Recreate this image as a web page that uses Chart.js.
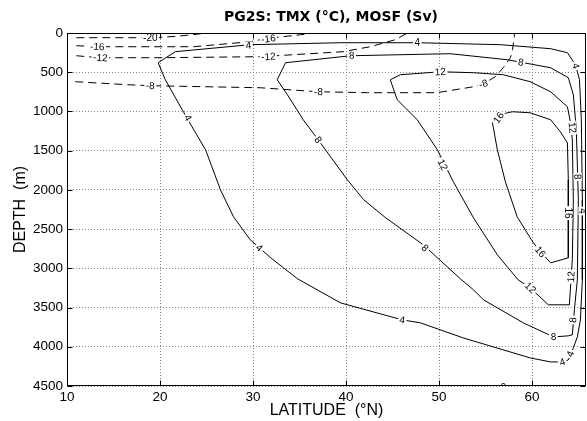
<!DOCTYPE html>
<html>
<head>
<meta charset="utf-8">
<script src="https://cdn.jsdelivr.net/npm/chart.js@4.4.0/dist/chart.umd.min.js"></script>
<style>
  html, body { margin: 0; padding: 0; background: #fff; }
</style>
</head>
<body>
<canvas id="chart" width="587" height="421"></canvas>
<script>
// contour levels
const mosfLevels = [0, 4, 8, 12, 16];       // Sv, solid
const tmxLevels = [-20, -16, -12, -8];      // degC, dashed

// contour paths, [latitude, depth]
const mosf0 = [[50, 4540], [64, 4540]];
const mosf4 = [[19.8, 379], [21.65, 238], [29.7, 149], [39.4, 124], [47.7, 124], [56.6, 149], [62.0, 200], [63.8, 251],
  [64.66, 404], [65.1, 596], [65.3, 1106], [65.41, 2126], [65.41, 3146], [65.2, 3657], [64.87, 3874], [64.44, 4014],
  [63.9, 4167], [63.26, 4193], [62.0, 4193], [59.8, 4142], [52.6, 3887], [48.0, 3695], [46.05, 3657], [39.4, 3440],
  [34.8, 3134], [31.9, 2866], [29.7, 2636], [27.9, 2343], [26.5, 1999], [24.9, 1489], [23.0, 1106], [20.57, 596], [19.8, 379]];
const mosf8 = [[32.6, 596], [33.5, 379], [40.5, 290], [51.2, 264], [57.35, 341], [62.0, 443], [63.9, 570], [64.44, 787],
  [64.76, 1234], [64.98, 2126], [64.87, 3146], [64.55, 3529], [64.33, 3848], [63.9, 3861], [62.3, 3874], [59.06, 3695],
  [54.77, 3401], [53.7, 3274], [52.3, 3134], [48.3, 2700], [44.2, 2350], [41.9, 2126], [40.14, 1871], [37.0, 1361],
  [35.4, 1106], [33.7, 787], [32.6, 596]];
const mosf12 = [[44.76, 596], [45.84, 532], [50.14, 494], [53.7, 506], [56.9, 532], [59.8, 621], [62.0, 749], [63.8, 940],
  [64.12, 1131], [64.33, 1361], [64.44, 2126], [64.33, 2891], [64.12, 3274], [64.01, 3465], [61.75, 3465], [59.8, 3248],
  [58.5, 3146], [56.27, 2828], [53.7, 2356], [51.54, 1897], [49.82, 1489], [47.66, 1106], [45.5, 851], [44.76, 596]];
const mosf16 = [[55.74, 1144], [56.27, 1055], [57.35, 1017], [57.9, 1004], [59.8, 1017], [62.0, 1106], [63.04, 1259],
  [63.8, 1399], [63.9, 1871], [63.9, 2381], [63.9, 2866], [62.0, 2930], [60.9, 2790], [60.14, 2675], [58.4, 2343],
  [57.13, 1897], [56.27, 1489], [55.74, 1144]];
const tmx20 = [[11.0, 60], [16.5, 60], [19.5, 60], [22.0, 40], [24.0, 15], [25.0, 0]];
const tmx16 = [[11.0, 162], [13.6, 175], [23.6, 175], [29.7, 111], [31.3, 73], [35.1, 22], [36.7, 0]];
const tmx12 = [[11.0, 290], [13.6, 315], [20.0, 315], [30.8, 302], [39.7, 238], [42.6, 175], [45.3, 85], [46.6, 0]];
const tmx8 = [[10.9, 621], [16.5, 659], [19.0, 672], [30.8, 698], [37.0, 749], [42.3, 761], [49.8, 761], [53.7, 685],
  [54.77, 647], [56.06, 557], [56.9, 443], [57.67, 315], [57.9, 213], [58.1, 47], [58.1, 0]];

// where the contour labels sit, [latitude, depth]
const mosf0Labels = [[56.9, 4525]];
const mosf4Labels = [[23.0, 1081], [29.5, 160], [47.66, 124], [64.7, 420], [65.41, 2270], [30.68, 2738], [46.05, 3657], [63.26, 4193], [64.12, 4090]];
const mosf8Labels = [[40.6, 285], [58.8, 375], [64.9, 1833], [37.0, 1361], [48.5, 2739], [64.4, 3657], [62.3, 3874]];
const mosf12Labels = [[50.14, 494], [64.33, 1208], [50.4, 1680], [59.82, 3248], [64.2, 3108]];
const mosf16Labels = [[56.4, 1080], [63.9, 2296], [60.89, 2790]];
const tmx20Labels = [[18.96, 60]];
const tmx16Labels = [[13.26, 175], [31.65, 73]];
const tmx12Labels = [[13.58, 315], [31.65, 302]];
const tmx8Labels = [[18.96, 672], [37.02, 749], [54.77, 647]];

const contours = [
  { level: mosfLevels[0], pts: mosf0, labels: mosf0Labels, dashed: false },
  { level: mosfLevels[1], pts: mosf4, labels: mosf4Labels, dashed: false },
  { level: mosfLevels[2], pts: mosf8, labels: mosf8Labels, dashed: false },
  { level: mosfLevels[3], pts: mosf12, labels: mosf12Labels, dashed: false },
  { level: mosfLevels[4], pts: mosf16, labels: mosf16Labels, dashed: false },
  { level: tmxLevels[0], pts: tmx20, labels: tmx20Labels, dashed: true },
  { level: tmxLevels[1], pts: tmx16, labels: tmx16Labels, dashed: true },
  { level: tmxLevels[2], pts: tmx12, labels: tmx12Labels, dashed: true },
  { level: tmxLevels[3], pts: tmx8, labels: tmx8Labels, dashed: true }
];

const FONT = 'Liberation Sans, Arial, Helvetica, sans-serif';

// angle of the contour segment closest to the label (screen space)
function labelAngle(pts, lx, ly, xs, ys) {
  let best = Infinity, ang = 0;
  for (let i = 0; i < pts.length - 1; i++) {
    const x1 = xs.getPixelForValue(pts[i][0]), y1 = ys.getPixelForValue(pts[i][1]);
    const x2 = xs.getPixelForValue(pts[i + 1][0]), y2 = ys.getPixelForValue(pts[i + 1][1]);
    const dx = x2 - x1, dy = y2 - y1;
    const len2 = dx * dx + dy * dy || 1;
    let t = ((lx - x1) * dx + (ly - y1) * dy) / len2;
    t = Math.max(0, Math.min(1, t));
    const d = Math.hypot(lx - (x1 + t * dx), ly - (y1 + t * dy));
    if (d < best) { best = d; ang = Math.atan2(dy, dx); }
  }
  if (ang > Math.PI / 2 + 1e-6) ang -= Math.PI;
  if (ang <= -Math.PI / 2 + 1e-6) ang += Math.PI;
  return ang;
}

const contourLabels = {
  id: 'contourLabels',
  afterDatasetsDraw(chart) {
    const { ctx, chartArea: ca } = chart;
    const xs = chart.scales.x, ys = chart.scales.y;
    ctx.save();
    ctx.beginPath();
    ctx.rect(ca.left, ca.top, ca.right - ca.left, ca.bottom - ca.top);
    ctx.clip();
    ctx.font = '10px ' + FONT;
    ctx.textAlign = 'center';
    ctx.textBaseline = 'middle';
    contours.forEach(c => {
      c.labels.forEach(l => {
        const px = xs.getPixelForValue(l[0]), py = ys.getPixelForValue(l[1]);
        const ang = labelAngle(c.pts, px, py, xs, ys);
        const txt = String(c.level);
        const w = ctx.measureText(txt).width;
        ctx.save();
        ctx.translate(px, py);
        ctx.rotate(ang);
        ctx.fillStyle = '#fff';
        ctx.fillRect(-w / 2 - 1.5, -4, w + 3, 8);
        ctx.fillStyle = '#000';
        ctx.fillText(txt, 0, 0.5);
        ctx.restore();
      });
    });
    ctx.restore();
  }
};

// box, inward ticks on all sides, and the title centred on the axes
const frame = {
  id: 'frame',
  afterDraw(chart) {
    const { ctx, chartArea: ca } = chart;
    const xs = chart.scales.x, ys = chart.scales.y;
    const L = Math.round(ca.left) + 0.5, R = Math.round(ca.right) - 0.5;
    const T = Math.round(ca.top) + 0.5, B = Math.round(ca.bottom) - 0.5;
    ctx.save();
    ctx.strokeStyle = '#000';
    ctx.lineWidth = 1;
    ctx.strokeRect(L, T, R - L, B - T);
    ctx.beginPath();
    xs.ticks.forEach(t => {
      const x = Math.round(xs.getPixelForValue(t.value)) + 0.5;
      ctx.moveTo(x, B); ctx.lineTo(x, B - 5);
      ctx.moveTo(x, T); ctx.lineTo(x, T + 5);
    });
    ys.ticks.forEach(t => {
      const y = Math.round(ys.getPixelForValue(t.value)) + 0.5;
      ctx.moveTo(L, y); ctx.lineTo(L + 5, y);
      ctx.moveTo(R, y); ctx.lineTo(R - 5, y);
    });
    ctx.stroke();

    ctx.fillStyle = '#000';
    ctx.font = 'bold 14px DejaVu Sans, sans-serif';
    ctx.textAlign = 'center';
    ctx.textBaseline = 'middle';
    ctx.fillText('PG2S: TMX (°C), MOSF (Sv)', (ca.left + ca.right) / 2 + 4.5, 17.5);
    ctx.restore();
  }
};

new Chart(document.getElementById('chart'), {
  type: 'scatter',
  data: {
    datasets: contours.map(c => ({
      data: c.pts.map(p => ({ x: p[0], y: p[1] })),
      showLine: true,
      borderColor: '#000',
      borderWidth: 1,
      borderDash: c.dashed ? [8, 5] : [],
      pointRadius: 0,
      tension: 0,
      fill: false
    }))
  },
  options: {
    responsive: false,
    animation: false,
    devicePixelRatio: 1,
    layout: { padding: { top: 33, right: 1, left: 0, bottom: 0 } },
    plugins: {
      legend: { display: false },
      tooltip: { enabled: false },
      title: { display: false }
    },
    scales: {
      x: {
        type: 'linear',
        position: 'bottom',
        min: 10,
        max: 65.8,
        afterFit(s) { s.height = 35; },
        ticks: { stepSize: 10, includeBounds: false, padding: 3, color: '#000', font: { family: FONT, size: 13.5 },
          callback: v => String(v) },
        grid: { color: '#888', lineWidth: 1, drawTicks: false },
        border: { display: false, dash: [1, 2] },
        title: { display: true, text: 'LATITUDE  (°N)', color: '#000', font: { family: FONT, size: 16 }, padding: { top: 0, bottom: 1 } }
      },
      y: {
        type: 'linear',
        reverse: true,
        min: 0,
        max: 4500,
        afterFit(s) { s.width = 67; },
        ticks: { stepSize: 500, padding: 4, color: '#000', font: { family: FONT, size: 13.5 },
          callback: v => String(v) },
        grid: { color: '#888', lineWidth: 1, drawTicks: false },
        border: { display: false, dash: [1, 2] },
        title: { display: true, text: 'DEPTH  (m)', color: '#000', font: { family: FONT, size: 16 }, padding: { top: 11, bottom: 0 } }
      }
    }
  },
  plugins: [contourLabels, frame]
});
</script>
</body>
</html>
